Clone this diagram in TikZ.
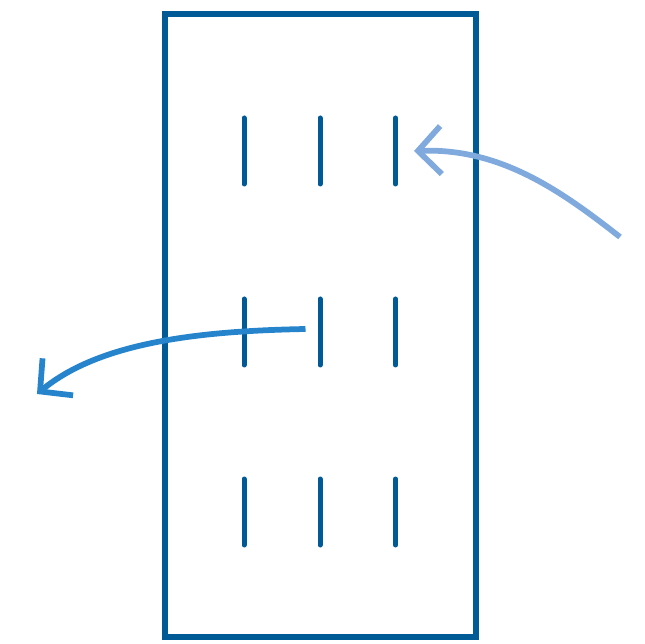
\documentclass[tikz,border=0pt]{standalone}
\usetikzlibrary{arrows.meta}
\definecolor{boxblue}{RGB}{0,90,150}
\definecolor{paleblue}{RGB}{128,170,221}
\definecolor{midblue}{RGB}{38,132,204}
\tikzset{
  frame/.style={draw=boxblue,line width=0.12cm},
  tick/.style={draw=boxblue,line width=0.1cm,line cap=round},
  flowarrow/.style={line width=0.115cm,-{Straight Barb[length=4.6mm,width=9.6mm]}}
}
\begin{document}
\begin{tikzpicture}[x=0.02cm,y=-0.02cm]
    \useasboundingbox (0,0) rectangle (645,644);

    \draw[frame] (165,14) rectangle (475.5,637);

    % top row
    \coordinate (T1a) at (244,118); \coordinate (T1b) at (244,184);
    \coordinate (T2a) at (320,118); \coordinate (T2b) at (320,184);
    \coordinate (T3a) at (395.5,118); \coordinate (T3b) at (395.5,184);
    \draw[tick] (T1a) -- (T1b);
    \draw[tick] (T2a) -- (T2b);
    \draw[tick] (T3a) -- (T3b);

    % middle row
    \coordinate (M1a) at (244,299); \coordinate (M1b) at (244,365);
    \coordinate (M2a) at (320,299); \coordinate (M2b) at (320,365);
    \coordinate (M3a) at (395.5,299); \coordinate (M3b) at (395.5,365);
    \draw[tick] (M1a) -- (M1b);
    \draw[tick] (M2a) -- (M2b);
    \draw[tick] (M3a) -- (M3b);

    % bottom row
    \coordinate (B1a) at (244,479); \coordinate (B1b) at (244,545);
    \coordinate (B2a) at (320,479); \coordinate (B2b) at (320,545);
    \coordinate (B3a) at (395.5,479); \coordinate (B3b) at (395.5,545);
    \draw[tick] (B1a) -- (B1b);
    \draw[tick] (B2a) -- (B2b);
    \draw[tick] (B3a) -- (B3b);

    % arrows
    \coordinate (inS) at (620,237);
    \coordinate (inE) at (414,151);
    \coordinate (outS) at (305.5,329);
    \coordinate (outE) at (37,394);
    \draw[flowarrow,paleblue] (inS) .. controls (560,190) and (500,148) .. (inE);
    \draw[flowarrow,midblue] (outS) .. controls (200,331) and (100,342) .. (outE);

\end{tikzpicture}
\end{document}
